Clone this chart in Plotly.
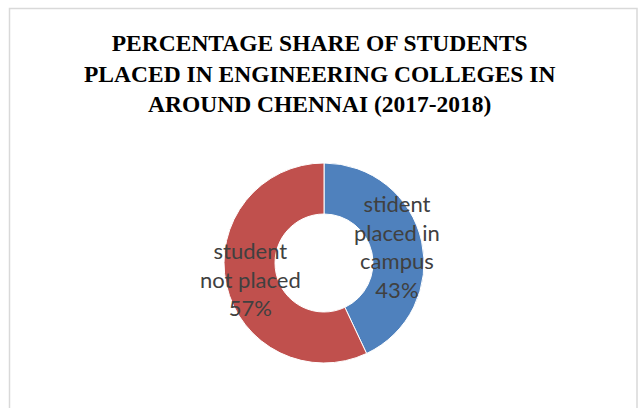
import numpy as np
import plotly.graph_objects as go

title_lines = ["PERCENTAGE SHARE OF STUDENTS",
               "PLACED IN ENGINEERING COLLEGES IN",
               "AROUND CHENNAI (2017-2018)"]
labels = ["stident placed in campus", "student not placed"]
label_lines = [["stident", "placed in", "campus"], ["student", "not placed"]]
values = [43, 57]
colors = ["#4F81BD", "#C0504D"]

W, H = 638, 408
cx, cy, R = 324, 263, 100  # pie centre / radius in pixels

fig = go.Figure()
fig.add_trace(go.Pie(
    labels=labels, values=values, hole=0.49, sort=False,
    direction="clockwise", rotation=0,
    marker=dict(colors=colors, line=dict(color="white", width=1)),
    textinfo="none", hoverinfo="label+percent", showlegend=False,
    domain=dict(x=[(cx - R) / W, (cx + R) / W],
                y=[(H - cy - R) / H, (H - cy + R) / H]),
))

# data labels at mid-angle of each slice
total = sum(values)
cum = 0
lab_r = 75
for lines, v in zip(label_lines, values):
    mid = (cum + v / 2) / total * 2 * np.pi
    cum += v
    px = cx + lab_r * np.sin(mid)
    py = cy - lab_r * np.cos(mid)
    txt = "<br>".join(lines + [f"{round(v / total * 100)}%"])
    fig.add_annotation(x=px / W, y=1 - py / H, xref="paper", yref="paper",
                       text=txt, showarrow=False, xanchor="center", yanchor="middle",
                       font=dict(family="Lato", size=22, color="#404040"))

fig.add_annotation(x=319 / W, y=1 - 73 / H, xref="paper", yref="paper",
                   text="<b>" + "<br>".join(title_lines) + "</b>", showarrow=False,
                   xanchor="center", yanchor="middle",
                   font=dict(family="Liberation Serif", size=23.5, color="black"))

fig.add_shape(type="rect", xref="paper", yref="paper",
              x0=9.5 / W, x1=637 / W, y0=-0.05, y1=1 - 8.5 / H,
              line=dict(color="#d9d9d9", width=1.5), fillcolor="rgba(0,0,0,0)")

fig.update_layout(width=W, height=H, margin=dict(l=0, r=0, t=0, b=0),
                  paper_bgcolor="white", plot_bgcolor="white")
fig.write_html("out.html")
